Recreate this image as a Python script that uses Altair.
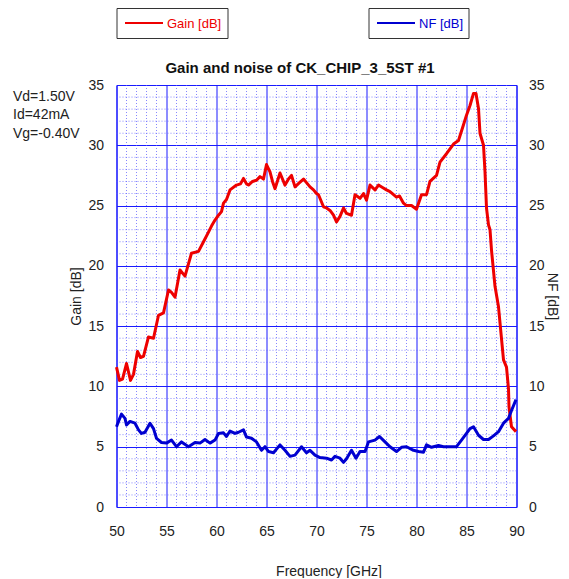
import altair as alt
import pandas as pd

# ---- data ----
gain_freq = [50.0, 50.3, 50.6, 51.0, 51.4, 51.7, 52.1, 52.4, 52.7, 53.2, 53.7, 54.2, 54.7, 55.2, 55.5,
             55.85, 56.35, 56.85, 57.5, 58.2, 58.7, 59.2, 59.5, 59.85, 60.2, 60.5, 60.7, 61.0, 61.35,
             62.0, 62.4, 62.7, 63.0, 63.2, 63.6, 64.0, 64.35, 64.7, 65.0, 65.35, 65.6, 65.85, 66.35,
             66.85, 67.2, 67.5, 67.85, 68.3, 68.7, 69.0, 69.35, 69.7, 70.0, 70.2, 70.7, 71.0, 71.35,
             71.7, 72.0, 72.35, 72.7, 73.0, 73.5, 73.85, 74.35, 74.7, 75.0, 75.35, 75.85, 76.2, 76.6,
             77.0, 77.35, 78.0, 78.3, 78.7, 79.0, 79.5, 80.0, 80.5, 81.0, 81.35, 82.0, 82.35, 83.0,
             83.7, 84.2, 84.7, 85.0, 85.35, 85.7, 85.95, 86.2, 86.35, 86.7, 86.85, 87.0, 87.2, 87.35,
             87.5, 87.85, 88.2, 88.45, 88.7, 89.0, 89.2, 89.25, 89.5, 89.95]
gain_db = [11.6, 10.5, 10.6, 11.9, 10.5, 11.0, 12.9, 12.4, 12.5, 14.1, 14.0, 15.9, 16.1, 18.0, 17.8,
           17.4, 19.65, 19.15, 21.05, 21.2, 22.0, 22.8, 23.3, 23.8, 24.2, 24.5, 25.2, 25.5, 26.3,
           26.7, 26.8, 27.25, 26.8, 26.7, 27.0, 27.1, 27.4, 27.2, 28.4, 27.8, 27.0, 26.4, 27.7,
           26.7, 27.2, 27.5, 26.55, 26.9, 27.2, 26.9, 26.55, 26.3, 26.0, 25.9, 24.9, 24.8, 24.6,
           24.2, 23.65, 24.1, 24.8, 24.35, 24.2, 25.9, 25.6, 26.0, 25.45, 26.7, 26.3, 26.7, 26.5,
           26.3, 26.15, 25.7, 25.8, 25.2, 25.0, 25.0, 24.7, 25.9, 25.9, 27.0, 27.5, 28.6, 29.3,
           30.1, 30.4, 31.7, 32.5, 33.3, 34.3, 34.3, 33.05, 31.0, 30.0, 27.8, 24.8, 23.4, 23.0,
           21.3, 18.3, 16.6, 14.4, 12.2, 11.6, 9.8, 8.3, 6.65, 6.25]

nf_freq = [50.0, 50.2, 50.5, 50.85, 51.0, 51.35, 51.85, 52.2, 52.5, 52.85, 53.35, 53.7, 54.0, 54.5,
           55.0, 55.5, 56.0, 56.5, 57.2, 57.85, 58.35, 58.85, 59.35, 59.85, 60.2, 60.7, 61.0, 61.35,
           61.85, 62.2, 62.7, 63.0, 63.5, 64.0, 64.5, 64.85, 65.2, 65.7, 66.35, 66.85, 67.35, 67.85,
           68.5, 69.0, 69.35, 69.85, 70.35, 71.0, 71.5, 71.85, 72.35, 72.7, 73.0, 73.5, 73.95, 74.35,
           74.85, 75.2, 75.85, 76.3, 76.85, 77.35, 78.0, 78.5, 79.0, 79.7, 80.2, 80.7, 81.0, 81.5,
           82.2, 82.7, 83.35, 84.0, 84.5, 85.0, 85.35, 85.7, 86.2, 86.7, 87.2, 87.7, 88.2, 88.7,
           89.2, 89.5, 89.95]
nf_db = [6.65, 7.1, 7.7, 7.35, 6.8, 7.1, 6.95, 6.4, 6.1, 6.2, 6.95, 6.5, 5.7, 5.35,
         5.3, 5.55, 5.0, 5.4, 5.0, 5.35, 5.3, 5.6, 5.3, 5.55, 6.1, 6.15, 5.85, 6.3,
         6.1, 6.2, 6.4, 5.8, 5.7, 5.4, 4.7, 5.0, 4.6, 4.5, 5.15, 4.7, 4.2, 4.3,
         5.0, 4.5, 4.7, 4.3, 4.1, 4.05, 3.9, 4.2, 4.05, 3.7, 4.0, 4.7, 4.05, 4.6,
         4.6, 5.4, 5.55, 5.85, 5.4, 5.0, 4.6, 4.95, 5.0, 4.7, 4.6, 4.55, 5.15, 4.95,
         5.1, 5.0, 5.0, 5.0, 5.55, 6.1, 6.5, 6.65, 5.95, 5.6, 5.6, 5.9, 6.25, 6.95,
         7.35, 8.0, 8.9]

x_ticks = [50, 55, 60, 65, 70, 75, 80, 85, 90]
y_ticks = [0, 5, 10, 15, 20, 25, 30, 35]
x_minor = [v for v in range(50, 91) if v not in x_ticks]
y_minor = [v for v in range(0, 36) if v not in y_ticks]

title_text = "Gain and noise of CK_CHIP_3_5ST #1"
bias_lines = ["Vd=1.50V", "Id=42mA", "Vg=-0.40V"]
legend_labels = ["Gain [dB]", "NF [dB]"]

gain_df = pd.DataFrame({"freq": gain_freq, "gain": gain_db})
nf_df = pd.DataFrame({"freq": nf_freq, "nf": nf_db})
xminor_df = pd.DataFrame({"freq": x_minor})
yminor_df = pd.DataFrame({"val": y_minor})
one = pd.DataFrame({"a": [0]})

W, H = 400, 422
FONT = "Liberation Sans"
TXT = "#222222"
RED = "#ee0000"
BLUE = "#0000d0"
GRID = "#1a1aff"
MINOR = "#6060ff"

xs = alt.Scale(domain=[50, 90], nice=False, zero=False)
ys = alt.Scale(domain=[0, 35], nice=False, zero=False)

minor_v = alt.Chart(xminor_df).mark_rule(color=MINOR, strokeDash=[1, 2], strokeWidth=1, opacity=0.75).encode(
    x=alt.X("freq:Q", scale=xs, axis=None))
minor_h = alt.Chart(yminor_df).mark_rule(color=MINOR, strokeDash=[1, 2], strokeWidth=1, opacity=0.75).encode(
    y=alt.Y("val:Q", scale=ys, axis=None))

gain_line = alt.Chart(gain_df).mark_line(color=RED, strokeWidth=3, strokeJoin="round").encode(
    x=alt.X("freq:Q", scale=xs,
            axis=alt.Axis(values=x_ticks, grid=True, gridColor=GRID, gridWidth=1, gridOpacity=1,
                          ticks=False, tickSize=0, domain=False, labelPadding=17, labelFlush=False,
                          labelFont=FONT, labelFontSize=14, labelColor=TXT,
                          title="Frequency [GHz]", titleFont=FONT, titleFontSize=14,
                          titleFontWeight="normal", titleColor=TXT, titleX=212, titleY=64,
                          titleBaseline="middle", titleAnchor="middle")),
    y=alt.Y("gain:Q", scale=ys,
            axis=alt.Axis(values=y_ticks, grid=True, gridColor=GRID, gridWidth=1, gridOpacity=1,
                          ticks=False, tickSize=0, domain=False, labelPadding=13, orient="left",
                          labelFont=FONT, labelFontSize=14, labelColor=TXT,
                          title="Gain [dB]", titleFont=FONT, titleFontSize=14,
                          titleFontWeight="normal", titleColor=TXT, titleX=-40, titleY=211,
                          titleBaseline="middle", titleAngle=-90)),
)

nf_line = alt.Chart(nf_df).mark_line(color=BLUE, strokeWidth=3, strokeJoin="round").encode(
    x=alt.X("freq:Q", scale=xs, axis=None),
    y=alt.Y("nf:Q", scale=ys,
            axis=alt.Axis(values=y_ticks, grid=False, ticks=False, tickSize=0, domain=False,
                          labelPadding=12, orient="right",
                          labelFont=FONT, labelFontSize=14, labelColor=TXT,
                          title="NF [dB]", titleFont=FONT, titleFontSize=14,
                          titleFontWeight="normal", titleColor=TXT, titleX=35, titleY=211,
                          titleBaseline="middle", titleAngle=90)),
)

# title and bias annotation
title_mark = alt.Chart(one).mark_text(text=title_text, font=FONT, fontSize=15, fontWeight="bold",
                                      color="#111111", align="center", baseline="middle").encode(
    x=alt.value(183.5), y=alt.value(-17))

bias_marks = [
    alt.Chart(one).mark_text(text=t, font=FONT, fontSize=14, color=TXT, align="left",
                             baseline="middle").encode(x=alt.value(-103.5), y=alt.value(yy))
    for t, yy in zip(bias_lines, [11.5, 30, 48.5])
]

# legend boxes
def legend_box(x0, x1, color, label):
    box = alt.Chart(one).mark_rect(fill="white", stroke="#333333", strokeWidth=1).encode(
        x=alt.value(x0), x2=alt.value(x1), y=alt.value(-76.5), y2=alt.value(-46.5))
    line = alt.Chart(one).mark_rule(color=color, strokeWidth=2).encode(
        x=alt.value(x0 + 8), x2=alt.value(x0 + 46), y=alt.value(-62))
    txt = alt.Chart(one).mark_text(text=label, font=FONT, fontSize=13, color=color, align="left",
                                   baseline="middle").encode(x=alt.value(x0 + 50), y=alt.value(-61.5))
    return [box, line, txt]

legend_marks = legend_box(0.5, 111.5, RED, legend_labels[0]) + legend_box(252.5, 352.5, BLUE, legend_labels[1])

chart = alt.layer(minor_v, minor_h, gain_line, nf_line, title_mark, *bias_marks, *legend_marks).resolve_axis(
    x="independent", y="independent"
).properties(
    width=W, height=H,
    padding={"left": 108.5, "top": 77, "right": 44.5, "bottom": 71},
    autosize=alt.AutoSizeParams(type="none"),
    background="white",
).configure_view(stroke="#0000ff", strokeWidth=1)

chart.save("out.html", embed_options={"renderer": "svg", "actions": False})
